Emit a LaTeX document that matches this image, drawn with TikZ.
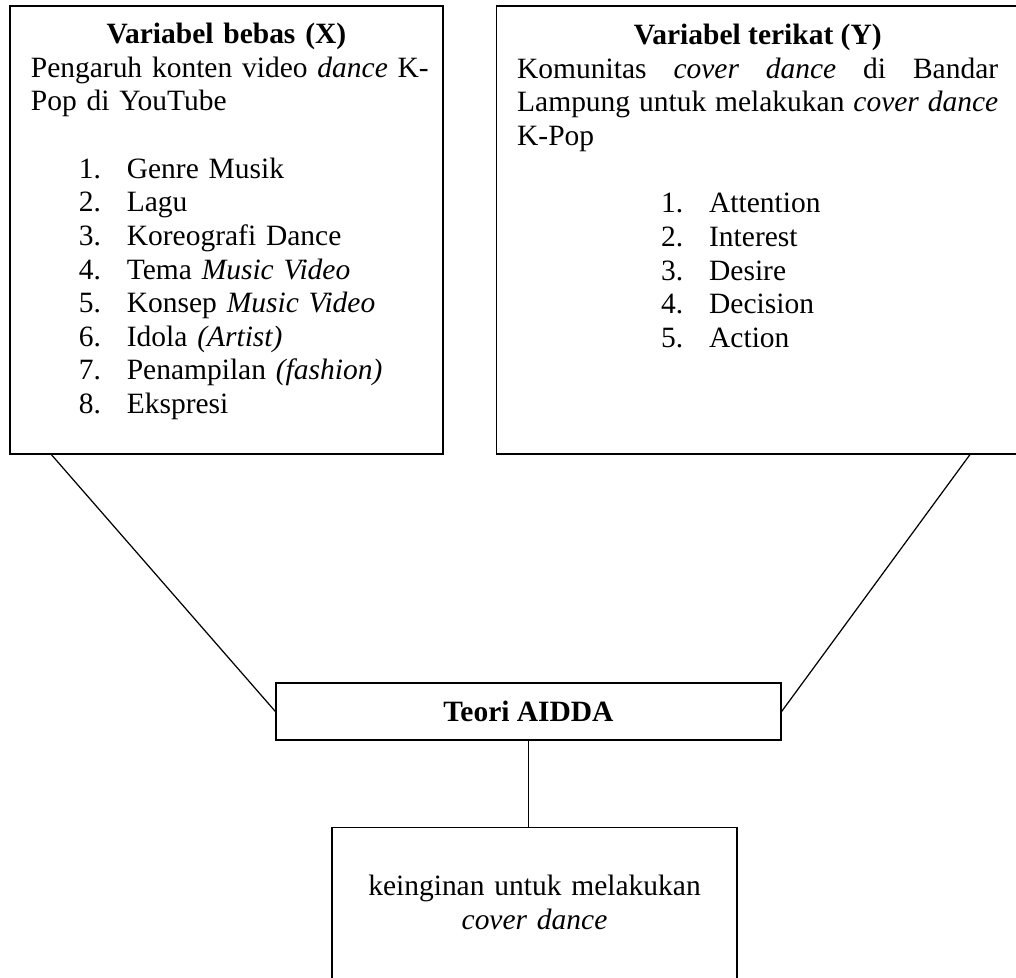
\documentclass[tikz,border=0pt]{standalone}
\usepackage{fontspec}
\setmainfont{Liberation Serif}
\usetikzlibrary{positioning}

\newlength{\px}
\setlength{\px}{0.407pt}
\newcommand{\butir}[3][48\px]{\hspace*{#1}\makebox[48\px][l]{#2.}#3}

\tikzstyle{kotak} = [rectangle, draw=black, line width=0.5pt, inner sep=0pt]
\tikzstyle{isi} = [inner sep=0pt, font=\fontsize{12}{13.7}\selectfont]
\tikzstyle{garis} = [line width=0.5pt]

\begin{document}
\begin{tikzpicture}[x=0.407pt, y=0.407pt]

    \useasboundingbox (0,0) rectangle (1016,-977);

    % Nodes
    \node (varx) [kotak, minimum width=433\px, minimum height=448\px] at (226.5,-230) {};
    \node (vary) [kotak, minimum width=523\px, minimum height=448\px, right=21.2pt of varx] {};
    \node (aidda) [kotak, isi, minimum width=505\px, minimum height=57\px, font=\fontsize{12}{13.7}\selectfont\bfseries] at (528.5,-711.5) {Teori AIDDA};
    \node (hasil) [kotak, minimum width=405\px, minimum height=180\px, below=35pt of aidda, xshift=6\px] {};

    \node (isix) [isi, text width=391\px, align=left, anchor=base west] at ([xshift=21\px, yshift=-38\px]varx.north west) {
        {\centering\textbf{Variabel bebas (X)}\par}
        \mbox{Pengaruh konten video \textit{dance} K-}\\
        Pop di YouTube\\
        \mbox{}\\
        \butir{1}{Genre Musik}\\
        \butir{2}{Lagu}\\
        \butir{3}{Koreografi Dance}\\
        \butir{4}{Tema \textit{Music Video}}\\
        \butir{5}{Konsep \textit{Music Video}}\\
        \butir{6}{Idola \textit{(Artist)}}\\
        \butir{7}{Penampilan \textit{(fashion)}}\\
        \butir{8}{Ekspresi}};
    \node (isiy) [isi, text width=481\px, align=justify, anchor=base west] at ([xshift=21\px, yshift=-39\px]vary.north west) {
        {\centering\textbf{Variabel terikat (Y)}\par}
        Komunitas \textit{cover dance} di Bandar\linebreak
        Lampung untuk melakukan \textit{cover dance}\linebreak
        K-Pop\\
        \mbox{}\\
        \butir[144\px]{1}{Attention}\\
        \butir[144\px]{2}{Interest}\\
        \butir[144\px]{3}{Desire}\\
        \butir[144\px]{4}{Decision}\\
        \butir[144\px]{5}{Action}};
    \node (isihasil) [isi, text width=405\px, align=center, anchor=base] at ([yshift=-69\px]hasil.north) {keinginan untuk melakukan\\ \textit{cover dance}};

    % Lines
    \draw [garis] ([xshift=42\px]varx.south west) -- (aidda.west);
    \draw [garis] ([xshift=-50\px]vary.south east) -- (aidda.east);
    \draw [garis] (aidda.south) -- (aidda.south |- hasil.north);

\end{tikzpicture}
\end{document}
